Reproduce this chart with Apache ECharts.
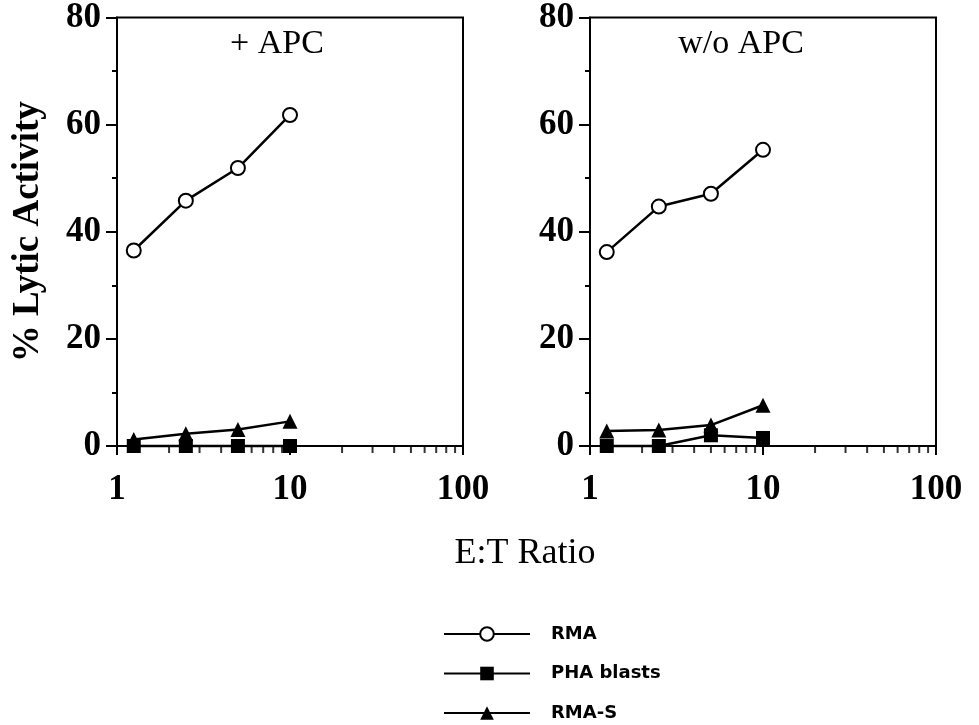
<!DOCTYPE html>
<html>
<head>
<meta charset="utf-8">
<script src="https://cdn.jsdelivr.net/npm/echarts@6/dist/echarts.min.js"></script>
<style>html,body{margin:0;padding:0;background:#fff}#c{width:979px;height:725px}</style>
</head>
<body>
<div id="c"></div>
<script>
// E:T ratios
var etRatios = [1.25, 2.5, 5, 10];
// + APC panel
var apcRMA = [36.5, 45.8, 51.9, 61.8];
var apcPHA = [0, 0, 0, 0];
var apcRMAS = [1.2, 2.3, 3.1, 4.6];
// w/o APC panel
var noApcRMA = [36.2, 44.7, 47.1, 55.3];
var noApcPHA = [0, 0, 2, 1.5];
var noApcRMAS = [2.8, 3.0, 3.9, 7.6];
// axis ticks
var yTicks = [0, 20, 40, 60, 80];
var xMajorTicks = [1, 10, 100];
var xMinorTicks = [2, 3, 4, 5, 6, 7, 8, 9, 20, 30, 40, 50, 60, 70, 80, 90];
var panelTitles = ['+ APC', 'w/o APC'];
var seriesNames = ['RMA', 'PHA blasts', 'RMA-S'];

var serif = 'Liberation Serif';
var chart = echarts.init(document.getElementById('c'));

function pairs(xs, ys) { return xs.map(function (x, i) { return [x, ys[i]]; }); }

var grids = [
  { left: 117, top: 15, width: 346, height: 431 },
  { left: 590, top: 15, width: 346, height: 431 }
];
grids.forEach(function (g) { g.show = true; g.borderColor = '#000'; g.borderWidth = 2; g.backgroundColor = 'transparent'; });

function xAxis(i) {
  return {
    type: 'log', logBase: 10, gridIndex: i, min: xMajorTicks[0], max: xMajorTicks[xMajorTicks.length - 1],
    axisLine: { lineStyle: { color: '#000', width: 2 } },
    axisTick: { show: true, length: 9, lineStyle: { color: '#000', width: 2 } },
    axisLabel: { color: '#000', fontFamily: serif, fontWeight: 'bold', fontSize: 35, margin: 26 },
    splitLine: { show: false }
  };
}
function yAxis(i) {
  return {
    type: 'value', gridIndex: i, min: yTicks[0], max: yTicks[yTicks.length - 1], interval: 20,
    axisLine: { show: true, lineStyle: { color: '#000', width: 2 } },
    axisTick: { show: true, length: 11, lineStyle: { color: '#000', width: 2 } },
    minorTick: { show: true, splitNumber: 2, length: 5, lineStyle: { color: '#000', width: 2 } },
    axisLabel: { color: '#000', fontFamily: serif, fontWeight: 'bold', fontSize: 35, margin: 16 },
    splitLine: { show: false },
    name: i === 0 ? '% Lytic Activity' : '',
    nameLocation: 'middle', nameGap: 70,
    nameTextStyle: { color: '#000', fontFamily: serif, fontWeight: 'bold', fontSize: 37 }
  };
}

var symbols = { 'RMA': 'emptyCircle', 'PHA blasts': 'rect', 'RMA-S': 'triangle' };
var sizes = { 'RMA': 14, 'PHA blasts': 14, 'RMA-S': 15 };

function lineSeries(name, i, ys) {
  return {
    type: 'line', name: name, xAxisIndex: i, yAxisIndex: i,
    data: pairs(etRatios, ys),
    symbol: symbols[name], symbolSize: sizes[name], showAllSymbol: true,
    lineStyle: { color: '#000', width: 2.5 },
    itemStyle: { color: '#000', borderColor: '#000', borderWidth: name === 'RMA' ? 2.5 : 0 },
    emphasis: { disabled: true }, animation: false, clip: false, z: 3
  };
}
function minorTickSeries(i) {
  return {
    type: 'scatter', xAxisIndex: i, yAxisIndex: i, silent: true, clip: false,
    data: xMinorTicks.map(function (v) { return [v, 0]; }),
    symbol: 'rect', symbolSize: [2, 6], symbolOffset: [0, 4],
    itemStyle: { color: '#000' }, animation: false, z: 1
  };
}

var series = [
  lineSeries('RMA-S', 0, apcRMAS), lineSeries('PHA blasts', 0, apcPHA), lineSeries('RMA', 0, apcRMA),
  lineSeries('RMA-S', 1, noApcRMAS), lineSeries('PHA blasts', 1, noApcPHA), lineSeries('RMA', 1, noApcRMA),
  minorTickSeries(0), minorTickSeries(1)
];

chart.setOption({
  animation: false,
  backgroundColor: '#fff',
  grid: grids,
  xAxis: [xAxis(0), xAxis(1)],
  yAxis: [yAxis(0), yAxis(1)],
  legend: {
    data: seriesNames, orient: 'vertical', left: 443, top: 625, padding: 0,
    itemWidth: 86, itemHeight: 17, itemGap: 21.5,
    selectedMode: false,
    textStyle: { color: '#000', fontFamily: 'DejaVu Sans', fontWeight: 'bold', fontSize: 18, padding: [0, 0, 0, 16] }
  },
  graphic: [
    { type: 'text', x: 277, y: 44, style: { text: panelTitles[0], fill: '#000', font: '34px "Liberation Serif"', textAlign: 'center', textVerticalAlign: 'middle' } },
    { type: 'text', x: 741, y: 44, style: { text: panelTitles[1], fill: '#000', font: '34px "Liberation Serif"', textAlign: 'center', textVerticalAlign: 'middle' } },
    { type: 'text', x: 525, y: 554, style: { text: 'E:T Ratio', fill: '#000', font: '36px "Liberation Serif"', textAlign: 'center', textVerticalAlign: 'middle' } }
  ],
  series: series
});
</script>
</body>
</html>
